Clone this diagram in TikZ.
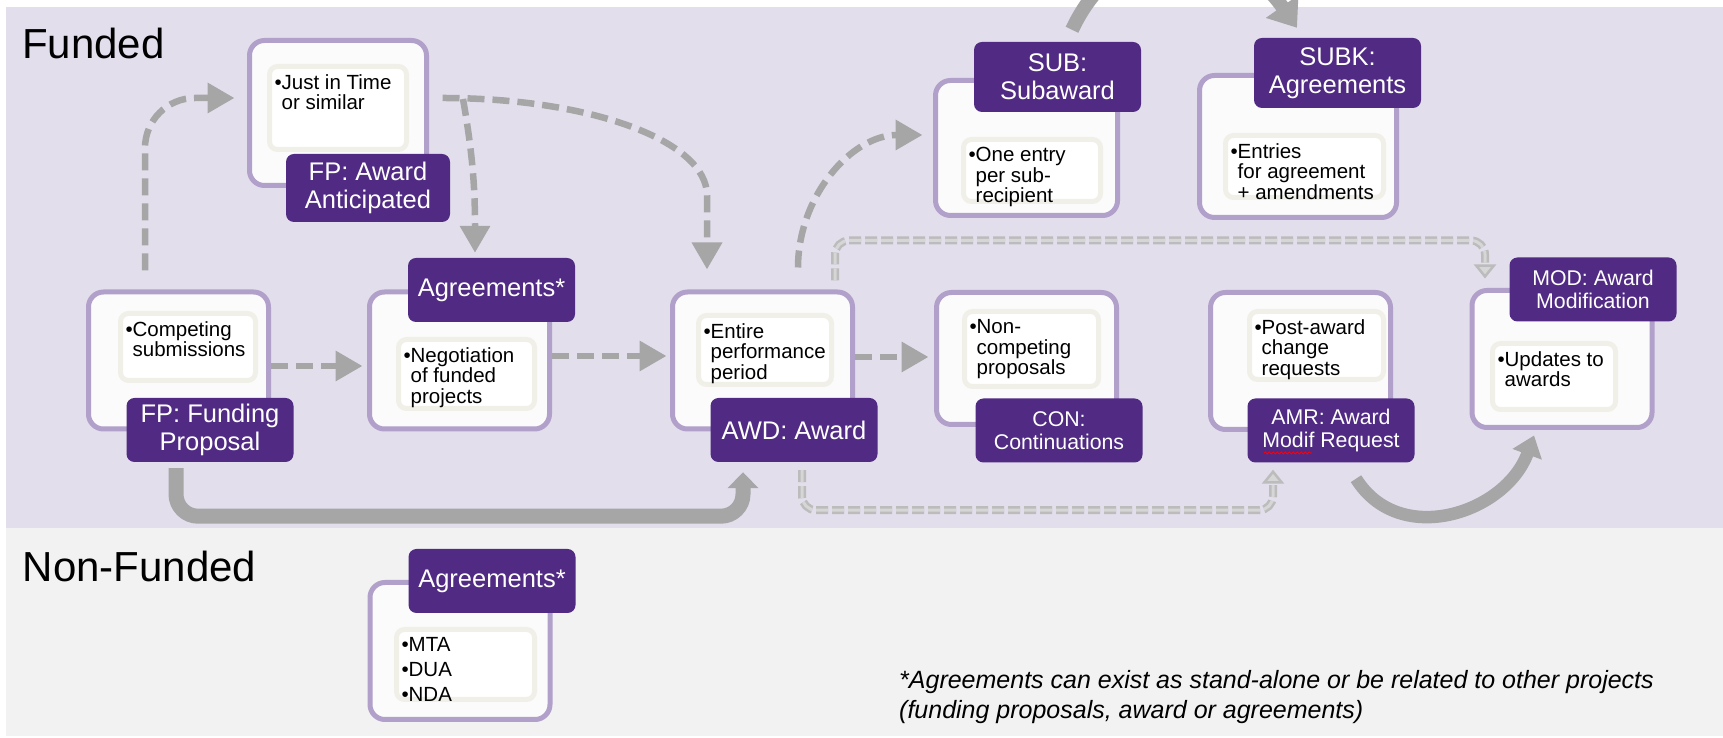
\documentclass[tikz,border=0pt]{standalone}
\usepackage{fontspec}
\setmainfont{Liberation Sans}
\usepackage{xcolor}
\usepackage{tikz}
\usetikzlibrary{arrows.meta,decorations.pathmorphing}
\definecolor{bgpurple}{RGB}{226,222,236}
\definecolor{bggray}{RGB}{242,242,242}
\definecolor{cardline}{RGB}{177,160,201}
\definecolor{cardfill}{RGB}{251,251,251}
\definecolor{innerline}{RGB}{241,240,232}
\definecolor{tagfill}{RGB}{80,42,131}
\definecolor{arrowgray}{RGB}{166,166,166}
\definecolor{dashout}{RGB}{188,188,188}
\definecolor{dashin}{RGB}{214,214,214}
\newcommand{\bultxt}[3]{\parbox[c][#1][t]{#2}{\hangindent=0.35em\hangafter=1\textbullet#3}}
\tikzset{card/.style={draw=cardline,fill=cardfill,line width=5pt,rounded corners=15pt,minimum width=180pt,minimum height=137pt,inner sep=0pt},
    inbox/.style={draw=innerline,fill=white,line width=5pt,rounded corners=8pt,inner xsep=5pt,inner ysep=8pt,font=\fontsize{20.5pt}{20.5pt}\selectfont},
    tag/.style={fill=tagfill,text=white,rounded corners=8pt,minimum width=167pt,minimum height=64pt,inner sep=0pt,align=center,font=\fontsize{25.5pt}{28pt}\selectfont},
    smalltag/.style={tag,font=\fontsize{21.3pt}{23.5pt}\selectfont},
    head/.style={anchor=base west,inner sep=0pt,font=\fontsize{42pt}{42pt}\selectfont},
    dasharrow/.style={->,draw=arrowgray,line width=6.5pt,dash pattern=on 17pt off 8pt},
    outarrow/.style={-{Triangle[length=14pt,width=22pt,fill=dashin]},draw=dashout,double=dashin,line width=2.5pt,double distance=3pt,dash pattern=on 12pt off 4pt,rounded corners=14pt},
    thickarrow/.style={draw=arrowgray,line width=15pt},
    spellmark/.style={draw=red,line width=0.8pt,decorate,decoration={snake,segment length=4pt,amplitude=1pt}}}

\begin{document}
\begin{tikzpicture}[x=1pt,y=1pt,>={Triangle[length=27pt,width=29pt]}]
    \useasboundingbox (0,0) rectangle (1723,738);
    \clip (0,0) rectangle (1723,738);
    \fill[white] (0,0) rectangle (1723,738);
    \fill[bggray] (5.5,2) rectangle (1723,210);
    \fill[bgpurple] (5.5,210) rectangle (1723,731);

    \node[head] (funded) at (22,679) {Funded};
    \node[head] (nonfunded) at (22.5,156) {Non-Funded};

    \node[card,minimum width=177pt,minimum height=145pt] (jit) at (338,625) {};
    \node[card] (fp) at (178.5,377.5) {};
    \node[card] (agr) at (459.5,377.5) {};
    \node[card] (awd) at (762.5,377.5) {};
    \node[card,minimum width=182pt,minimum height=135pt] (sub) at (1026.5,590) {};
    \node[card,minimum width=197pt,minimum height=142pt] (subk) at (1298,591.5) {};
    \node[card,minimum height=132pt] (con) at (1026.5,379.5) {};
    \node[card] (amr) at (1300.5,377) {};
    \node[card] (mod) at (1562,379) {};
    \node[card] (nf) at (460,87) {};

    \node[inbox] (jitin) at (338,630) {\bultxt{67pt}{127pt}{Just in Time\\or similar}};
    \node[inbox] (fpin) at (188,391) {\bultxt{51pt}{125pt}{Competing\\submissions}};
    \node[inbox] (agrin) at (466.5,364) {\bultxt{53pt}{126pt}{Negotiation\\of funded\\projects}};
    \node[inbox] (awdin) at (765,388) {\bultxt{53pt}{123pt}{Entire\\performance\\period}};
    \node[inbox] (subin) at (1032,567.5) {\bultxt{46pt}{127pt}{One entry\\per sub-\\recipient}};
    \node[inbox] (subkin) at (1304.5,571.5) {\bultxt{46pt}{148pt}{Entries\\for agreement\\+ amendments}};
    \node[inbox] (conin) at (1031.5,389) {\bultxt{59pt}{124pt}{Non-\\competing\\proposals}};
    \node[inbox] (amrin) at (1316.5,392.5) {\bultxt{52pt}{124pt}{Post-award\\change\\requests}};
    \node[inbox] (modin) at (1554,361.5) {\bultxt{50pt}{113pt}{Updates to\\awards}};
    \node[inbox,font=\fontsize{20.5pt}{25pt}\selectfont] (nfin) at (465.5,73.5) {\parbox[c][54pt][t]{128pt}{\textbullet MTA\\\textbullet DUA\\\textbullet NDA}};

    \node[tag,minimum width=164pt,minimum height=68pt] (jittag) at (368,550) {FP: Award\\Anticipated};
    \node[tag] (fptag) at (210,308) {FP: Funding\\Proposal};
    \node[tag] (agrtag) at (491.5,448) {Agreements*};
    \node[tag] (awdtag) at (794,308) {AWD: Award};
    \node[tag,minimum height=70pt] (subtag) at (1057.5,661) {SUB:\\Subaward};
    \node[tag,minimum height=70pt] (subktag) at (1337.5,665) {SUBK:\\Agreements};
    \node[smalltag] (contag) at (1059,307.5) {CON:\\Continuations};
    \node[smalltag] (amrtag) at (1331,307.5) {AMR: Award\\Modif Request};
    \node[smalltag] (modtag) at (1593,448.5) {MOD: Award\\Modification};
    \node[tag] (nftag) at (492,157) {Agreements*};

    \node[anchor=north west,inner sep=0pt,align=left,font=\fontsize{25pt}{30pt}\selectfont\itshape] (note) at (899,68) {*Agreements can exist as stand-alone or be related to other projects\\(funding proposals, award or agreements)};

    \draw [spellmark] ([xshift=-67pt,yshift=-22.5pt]amrtag.center) -- ([xshift=-19pt,yshift=-22.5pt]amrtag.center);

    \draw [dasharrow,rounded corners=50pt] ([xshift=-33.5pt,yshift=19pt]fp.north) |- ([xshift=-12.5pt,yshift=15pt]jit.west);
    \draw [dasharrow] ([xshift=13.5pt,yshift=15pt]jit.east) .. controls +(147,0) and +(0,55) .. ([xshift=-55.5pt,yshift=94pt]awd.north) -- ([xshift=-55.5pt,yshift=20pt]awd.north);
    \draw [dasharrow] ([xshift=34pt,yshift=14pt]jit.east) to [out=-80,in=90] ([xshift=-16.5pt,yshift=5pt]agrtag.north);
    \draw [dasharrow] ([yshift=-5.5pt]fp.east) to [] ([xshift=-4.5pt,yshift=-5.5pt]agr.west);
    \draw [dasharrow] ([yshift=4.5pt]agr.east) to [] ([xshift=-3.5pt,yshift=4.5pt]awd.west);
    \draw [dasharrow] ([yshift=3.5pt]awd.east) to [] ([xshift=-5.5pt,yshift=1.5pt]con.west);
    \draw [dasharrow] ([xshift=35.5pt,yshift=22pt]awd.north) to [out=90,in=180] ([xshift=-10.5pt,yshift=13pt]sub.west);
    \draw [outarrow] ([xshift=72.5pt,yshift=9pt]awd.north) -- ++(0,40) -| ([xshift=-77pt,yshift=9.5pt]mod.north);
    \draw [outarrow] ([xshift=8pt,yshift=-8pt]awdtag.south) -- ++(0,-40) -| ([xshift=-58pt,yshift=-7pt]amrtag.south);
    \draw [thickarrow,-{Triangle[length=16pt,width=30pt]},rounded corners=22pt] ([xshift=-34pt,yshift=-6pt]fptag.south) -- ++(0,-48) -| ([xshift=-51pt,yshift=-10pt]awdtag.south);
    \draw [thickarrow,line width=12.5pt,-{Triangle[length=20pt,width=30pt]}] ([xshift=25pt,yshift=-16pt]amrtag.south) to [out=-58,in=-110,looseness=1.15] ([xshift=-28pt,yshift=-5.5pt]mod.south);
    \draw [thickarrow,line width=14pt,-{Triangle[length=26pt,width=38pt]}] ([xshift=14.5pt,yshift=12pt]subtag.north) to [out=65,in=125,looseness=1.3] ([xshift=-40.5pt,yshift=10pt]subktag.north);
\end{tikzpicture}
\end{document}
